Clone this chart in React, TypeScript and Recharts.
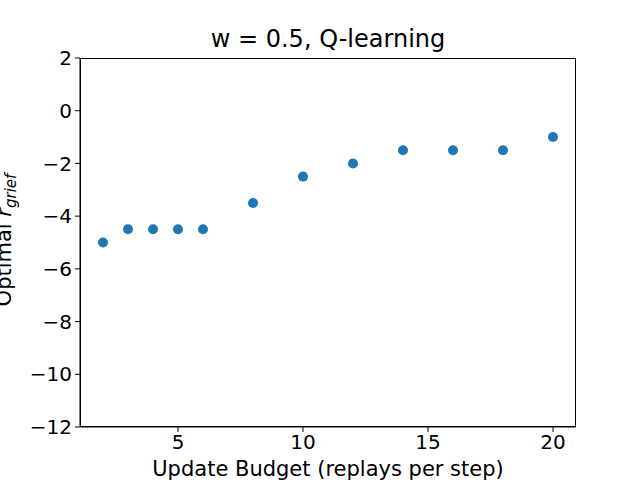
import React from "react";
import { ScatterChart, Scatter, XAxis, YAxis } from "recharts";

const budgets = [2, 3, 4, 5, 6, 8, 10, 12, 14, 16, 18, 20];
const optimalGrief = [-5, -4.5, -4.5, -4.5, -4.5, -3.5, -2.5, -2, -1.5, -1.5, -1.5, -1];
const xTicks = [5, 10, 15, 20];
const yTicks = [2, 0, -2, -4, -6, -8, -10, -12];

const data = budgets.map((b, i) => ({ x: b, y: optimalGrief[i] }));
const fmt = (v: number) => String(v).replace("-", "\u2212");
const font = "DejaVu Sans, sans-serif";
const tick = { fontSize: 20, fill: "#000", fontFamily: font };

export default function App() {
  return (
    <div style={{ position: "absolute", left: 0, top: 0, width: 640, height: 480, overflow: "hidden", background: "#fff", fontFamily: font }}>
      <ScatterChart width={640} height={480} margin={{ top: 58, right: 64, left: 20, bottom: 18 }}>
        <XAxis type="number" dataKey="x" domain={[1.08, 20.92]} ticks={xTicks} tickFormatter={fmt}
          height={35} tick={tick} tickSize={5} tickMargin={3} stroke="#000" allowDataOverflow />
        <YAxis type="number" dataKey="y" domain={[-12, 2]} ticks={yTicks} tickFormatter={fmt}
          width={60} tick={tick} tickSize={5} tickMargin={3} stroke="#000" />
        <Scatter data={data} fill="#1f77b4" shape={(p: any) => <circle cx={p.cx} cy={p.cy} r={5} fill="#1f77b4" />} isAnimationActive={false} />
      </ScatterChart>
      <div style={{ position: "absolute", left: 80, top: 58, width: 496, height: 369, border: "1px solid #000", boxSizing: "border-box", pointerEvents: "none" }} />
      <div style={{ position: "absolute", left: 0, width: 656, top: 25, textAlign: "center", fontSize: 24 }}>w = 0.5, Q-learning</div>
      <div style={{ position: "absolute", left: 0, width: 656, top: 457, textAlign: "center", fontSize: 21 }}>Update Budget (replays per step)</div>
      <div style={{ position: "absolute", left: 6, top: 240, transform: "translate(-50%, -50%) rotate(-90deg)", fontSize: 21, whiteSpace: "nowrap" }}>
        Optimal <i>r</i><sub style={{ fontSize: 15 }}><i>grief</i></sub>
      </div>
    </div>
  );
}
